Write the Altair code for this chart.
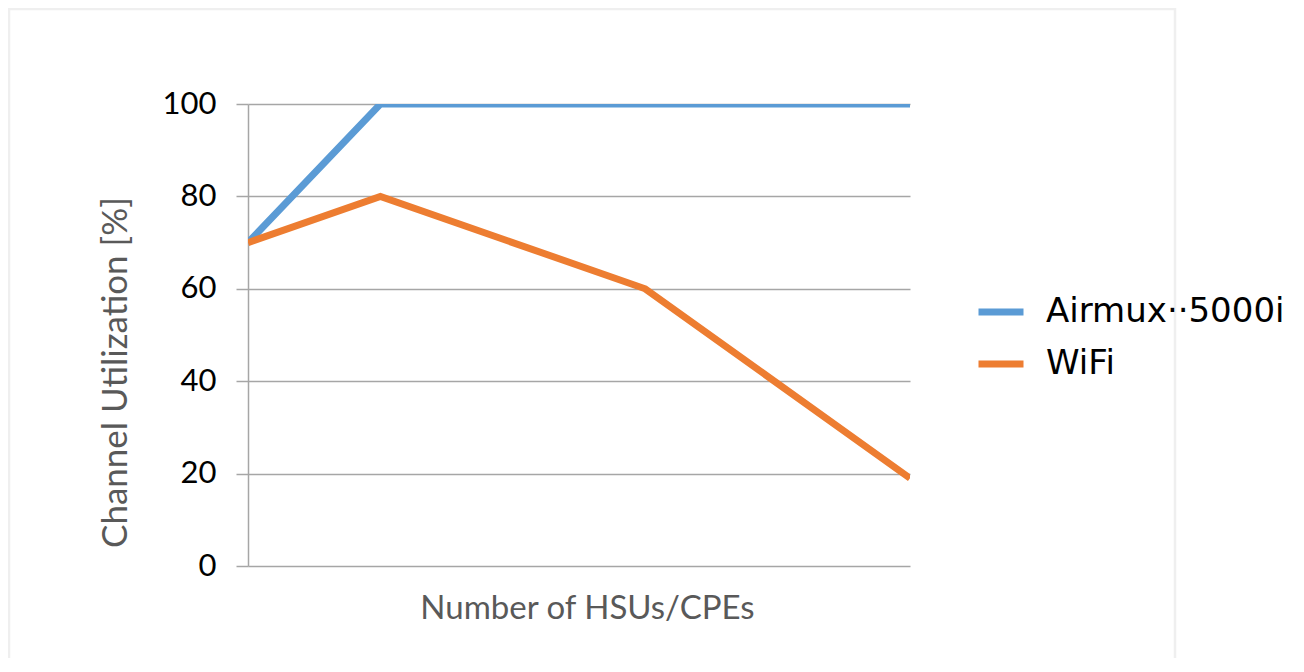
import altair as alt
import pandas as pd

x_vals = [1, 2, 4, 6]
airmux = [70, 100, 100, 100]
wifi = [70, 80, 60, 19]
series_names = ["Airmux··5000i", "WiFi"]
colors = ["#5B9BD5", "#ED7D31"]
y_ticks = [0, 20, 40, 60, 80, 100]

rows = []
for name, vals in zip(series_names, [airmux, wifi]):
    for xv, yv in zip(x_vals, vals):
        rows.append({"x": xv, "y": yv, "series": name})
df = pd.DataFrame(rows)

GRAY = "#A6A6A6"

lines = alt.Chart(df).mark_line(strokeWidth=7, clip=True).encode(
    x=alt.X("x:Q", scale=alt.Scale(domain=[1, 6], nice=False, zero=False),
            axis=alt.Axis(labels=False, ticks=False, grid=False, domain=False,
                          title="Number of HSUs/CPEs", titleFont="Lato",
                          titleFontSize=33, titleFontWeight="normal",
                          titleColor="#595959", titlePadding=26, titleX=339)),
    y=alt.Y("y:Q", scale=alt.Scale(domain=[0, 100], nice=False),
            axis=alt.Axis(values=y_ticks, tickSize=12, tickColor=GRAY, tickWidth=1.5,
                          domainColor=GRAY, domainWidth=1.5,
                          gridColor=GRAY, gridWidth=1.5,
                          labelFont="Lato", labelFontSize=31, labelColor="#000000",
                          labelPadding=20,
                          title="Channel Utilization [%]", titleFont="Lato",
                          titleFontSize=35, titleFontWeight="normal",
                          titleColor="#595959", titlePadding=29, titleY=268)),
    color=alt.Color("series:N", scale=alt.Scale(domain=series_names, range=colors),
                    legend=alt.Legend(orient="none", legendX=727, legendY=182, title=None,
                                      symbolType="stroke", symbolSize=2025,
                                      symbolStrokeWidth=7, labelFont="DejaVu Sans",
                                      labelFontSize=34, labelColor="#000000",
                                      labelLimit=0, labelOffset=19, rowPadding=9)),
    order=alt.Order("x:Q"),
)

frame = alt.Chart(pd.DataFrame({"a": [0]})).mark_rect(
    fillOpacity=0, stroke="#EFEFEF", strokeWidth=2.5
).encode(
    x=alt.value(-239), x2=alt.value(927), y=alt.value(-95), y2=alt.value(600)
)

chart = alt.layer(frame, lines).properties(
    width=662, height=462,
    autosize=alt.AutoSizeParams(type="none"),
    padding={"left": 240, "top": 96, "right": 386, "bottom": 92},
).configure_view(stroke=None)

chart.save("out.html", embed_options={"renderer": "svg", "actions": False})
